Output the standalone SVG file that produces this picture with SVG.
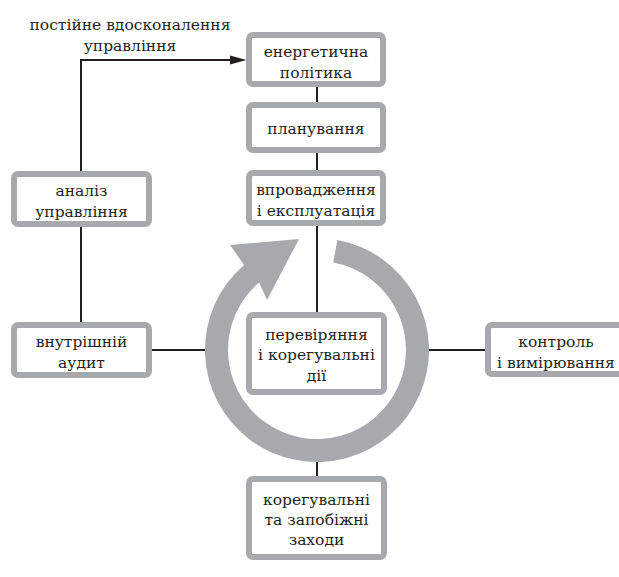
<svg xmlns="http://www.w3.org/2000/svg" width="619" height="577" viewBox="0 0 619 577">
<style>
.box{fill:#fff;stroke:#a7a9ac;stroke-width:6}
.ln{fill:none;stroke:#231f20;stroke-width:2}
text{font-family:"DejaVu Serif","Liberation Serif",serif;font-size:15.5px;fill:#231f20;text-anchor:middle}
</style>
<rect width="619" height="577" fill="#fff"/>
<g id="connectors">
<path class="ln" d="M317 87V102M317 153V170M317 226V312M317 455V476M152 350H210M425 350H485M81 227V322M81 171V60H234"/>
<polygon points="246.5,60 230,55.5 230,64.5" fill="#231f20"/>
</g>
<g id="cycle">
<path d="M337.4 239.9 A112 112 0 1 1 244.1 265 L230 245 L299 239 L267 300 L259.1 282.4 A89 89 0 1 0 333.2 262.5 Z" fill="#a7a9ac"/>
</g>
<g id="energy-policy">
<rect class="box" x="249" y="35" width="134" height="49" rx="4"/>
<text x="316" y="56.5">енергетична</text>
<text x="316" y="77.5">політика</text>
</g>
<g id="planning">
<rect class="box" x="249" y="105" width="134" height="45" rx="4"/>
<text x="316" y="133.5">планування</text>
</g>
<g id="implementation">
<rect class="box" x="249" y="173" width="134" height="50" rx="4"/>
<text x="316" y="195">впровадження</text>
<text x="316" y="216">і експлуатація</text>
</g>
<g id="management-review">
<rect class="box" x="14" y="174" width="135" height="50" rx="4"/>
<text x="81.5" y="196">аналіз</text>
<text x="81.5" y="217">управління</text>
</g>
<g id="internal-audit">
<rect class="box" x="14" y="325" width="135" height="50" rx="4"/>
<text x="81.5" y="347">внутрішній</text>
<text x="81.5" y="368">аудит</text>
</g>
<g id="checking">
<rect class="box" x="249" y="315" width="135" height="77" rx="4"/>
<text x="316.5" y="339.5">перевіряння</text>
<text x="316.5" y="360">і корегувальні</text>
<text x="316.5" y="380.5">дії</text>
</g>
<g id="monitoring">
<rect class="box" x="488" y="325" width="136" height="49" rx="4"/>
<text x="556" y="346.5">контроль</text>
<text x="556" y="367.5">і вимірювання</text>
</g>
<g id="corrective">
<rect class="box" x="249" y="479" width="135" height="78" rx="4"/>
<text x="316.5" y="505">корегувальні</text>
<text x="316.5" y="525">та запобіжні</text>
<text x="316.5" y="545">заходи</text>
</g>
<g id="label">
<text x="130" y="30">постійне вдосконалення</text>
<text x="130" y="51">управління</text>
</g>
</svg>
